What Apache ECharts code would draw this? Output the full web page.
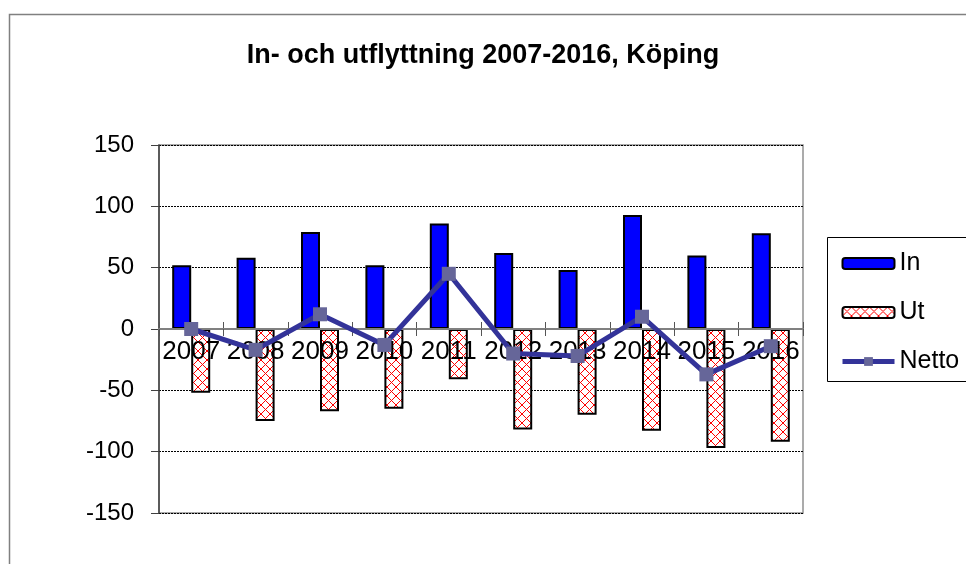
<!DOCTYPE html>
<html>
<head>
<meta charset="utf-8">
<script src="https://cdn.jsdelivr.net/npm/echarts@6/dist/echarts.min.js"></script>
<style>
html, body { margin: 0; padding: 0; background: #fff; }
#main { width: 966px; height: 564px; }
</style>
</head>
<body>
<div id="main"></div>
<script>
var years = ['2007', '2008', '2009', '2010', '2011', '2012', '2013', '2014', '2015', '2016'];
var inValues = [52, 58, 79, 52, 86, 62, 48, 93, 60, 78];
var utValues = [-52, -75, -67, -65, -41, -82, -70, -83, -97, -92];
var nettoValues = [0, -17, 12, -13, 45, -20, -22, 10, -37, -14];
var yTicks = [-150, -100, -50, 0, 50, 100, 150];

var font = 'Liberation Sans, Arial, sans-serif';
// the zero line sits 184px above the bottom of the plot area (-150..150 over 368px)
var zeroOffset = -184;

// red cross hatch for Ut
function makeHatch() {
    var c = document.createElement('canvas');
    c.width = 9;
    c.height = 9;
    var ctx = c.getContext('2d');
    ctx.fillStyle = '#ffffff';
    ctx.fillRect(0, 0, 9, 9);
    ctx.strokeStyle = '#ff0000';
    ctx.lineWidth = 1;
    ctx.beginPath();
    ctx.moveTo(0, 0); ctx.lineTo(9, 9);
    ctx.moveTo(9, 0); ctx.lineTo(0, 9);
    ctx.stroke();
    return c;
}

var chart = echarts.init(document.getElementById('main'));

var option = {
    animation: false,
    backgroundColor: '#ffffff',
    title: {
        text: 'In- och utflyttning 2007-2016, Köping',
        left: 'center',
        top: 37,
        textStyle: { fontFamily: font, fontSize: 27, fontWeight: 'bold', color: '#000' }
    },
    graphic: [
        {
            type: 'rect', left: 7, top: 12, silent: true, z: -10,
            shape: { width: 980, height: 600 },
            style: { fill: 'none', stroke: '#808080', lineWidth: 1.5 }
        },
        {
            type: 'rect', left: 827, top: 237, silent: true, z: -10,
            shape: { width: 160, height: 144 },
            style: { fill: '#fff', stroke: '#000', lineWidth: 1 }
        }
    ],
    legend: {
        orient: 'vertical',
        left: 840,
        top: 251,
        padding: 0,
        itemWidth: 52,
        itemHeight: 11,
        itemGap: 24,
        textStyle: { fontFamily: font, fontSize: 25, color: '#000' },
        data: [
            'In',
            'Ut',
            { name: 'Netto', lineStyle: { width: 5 }, itemStyle: { color: '#666699' } }
        ]
    },
    grid: {
        left: 159, top: 145, right: 163, bottom: 51,
        show: true, borderColor: '#909090', borderWidth: 1.5
    },
    xAxis: [
        {
            type: 'category',
            data: years,
            position: 'bottom',
            offset: zeroOffset,
            z: 3,
            axisLine: { onZero: false, lineStyle: { color: '#808080', width: 2 } },
            axisTick: { show: true, length: 7, lineStyle: { color: '#555' } },
            axisLabel: { fontFamily: font, fontSize: 26, color: '#000', margin: 10, interval: 0 }
        },
        {
            type: 'category',
            data: years,
            position: 'top',
            offset: zeroOffset,
            axisLine: { show: false, onZero: false },
            axisTick: { show: true, length: 7, lineStyle: { color: '#555' } },
            axisLabel: { show: false }
        }
    ],
    yAxis: {
        type: 'value',
        min: -150,
        max: 150,
        interval: 50,
        axisLine: { show: true, lineStyle: { color: '#404040', width: 1.5 } },
        axisTick: { show: true, length: 8, lineStyle: { color: '#404040' } },
        axisLabel: {
            fontFamily: font, fontSize: 24, color: '#000', margin: 25,
            formatter: function (v) { return yTicks.indexOf(v) >= 0 ? String(v) : ''; }
        },
        splitLine: { show: true, lineStyle: { color: '#000', width: 1, type: [2, 1] } }
    },
    series: [
        {
            name: 'In',
            type: 'bar',
            data: inValues,
            barWidth: 19,
            barGap: '0%',
            itemStyle: { color: '#0000ff', borderColor: '#000', borderWidth: 2 }
        },
        {
            name: 'Ut',
            type: 'bar',
            data: utValues,
            barWidth: 19,
            barGap: '0%',
            itemStyle: { color: { image: makeHatch(), repeat: 'repeat' }, borderColor: '#000', borderWidth: 2 }
        },
        {
            name: 'Netto',
            type: 'line',
            data: nettoValues,
            z: 5,
            symbol: 'rect',
            symbolSize: 14,
            lineStyle: { color: '#333399', width: 5 },
            itemStyle: { color: '#666699' }
        }
    ]
};

chart.setOption(option);

window.onresize = function () {
    chart.resize();
};
</script>
</body>
</html>
